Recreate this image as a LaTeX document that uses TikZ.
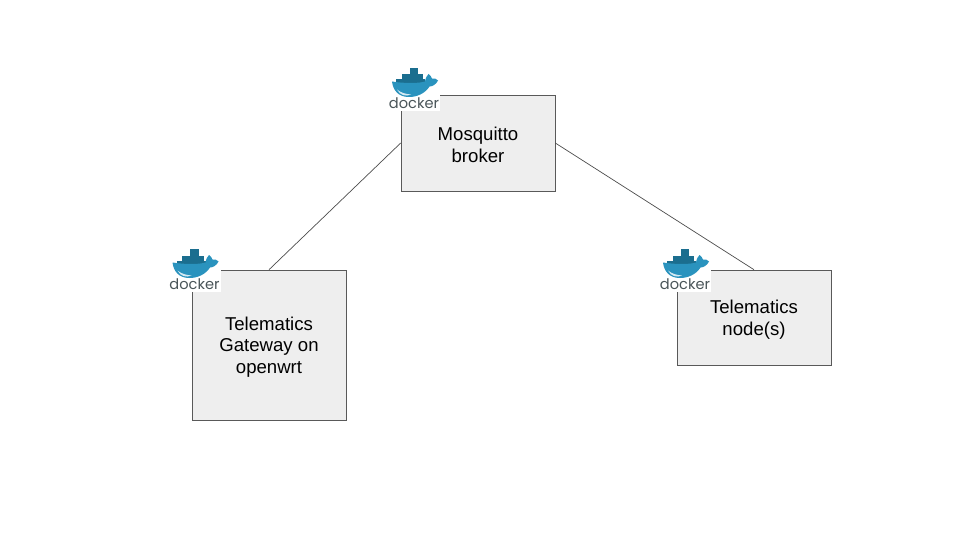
\documentclass[tikz,border=0pt]{standalone}
\usepackage{fontspec}
\setmainfont{Liberation Sans}
\newfontfamily\logofont{Poppins}
\definecolor{boxfill}{HTML}{EEEEEE}
\definecolor{boxline}{HTML}{595959}
\definecolor{whaleblue}{HTML}{2A93BE}
\definecolor{whaledark}{HTML}{1B6E8F}
\definecolor{dockergray}{HTML}{4A5559}
\newcommand{\lowered}[1]{\parbox{150pt}{\centering\vspace*{4pt}#1}}
\tikzset{
  x=1pt,y=-1pt,
  stepbox/.style={draw=boxline,line width=0.6pt,fill=boxfill,minimum width=154pt,align=center,font=\fontsize{18.6}{21.5}\selectfont,inner sep=0pt},
  link/.style={draw=boxline!85!black,line width=0.7pt},
  dockerlogo/.pic={
    \fill[white] (0,0) rectangle (51,44);
    % containers
    \fill[whaledark] (20.5,1) rectangle (29,8);
    \fill[whaledark] (12.5,7.5) rectangle (34,14);
    \fill[whaledark] (7,12.5) rectangle (36,16);
    % whale
    \fill[whaleblue] (3,14.5) .. controls (15,16.5) and (30,16.5) .. (36,14.5)
       .. controls (36.5,11) and (38,8.5) .. (39.5,7)
       .. controls (41.5,8.5) and (42.5,10) .. (43,11.5)
       .. controls (45.5,11) and (47.5,12) .. (49,13.5)
       .. controls (47,17.5) and (43.5,19.5) .. (40.5,19.5)
       .. controls (36,26.5) and (28,30) .. (20,30)
       .. controls (9,30) and (4,23) .. (3,14.5) -- cycle;
    \fill[white!80!whaleblue] (8,22.5) .. controls (12,26) and (17,27) .. (22,27.5)
       .. controls (17,29.8) and (11,28.5) .. (8,22.5) -- cycle;
    \node[text=dockergray,font=\logofont\fontsize{14.6}{15}\selectfont,inner sep=0pt,anchor=center] at (25,36) {docker};
  }
}
\begin{document}
\begin{tikzpicture}
\useasboundingbox (0,0) rectangle (960,540);
\node[stepbox,minimum height=96pt] (broker) at (478,143) {\lowered{Mosquitto\\broker}};
\node[stepbox,minimum height=150pt] (gateway) at (269,345) {\lowered{Telematics\\Gateway on\\openwrt}};
\node[stepbox,minimum height=95pt] (telenode) at (754,317.5) {\lowered{Telematics\\node(s)}};
\draw[link] (broker.west) -- (gateway.north);
\draw[link] (broker.east) -- (telenode.north);
\pic at (389,67) {dockerlogo};
\pic at (169.5,248) {dockerlogo};
\pic at (660,248) {dockerlogo};
\end{tikzpicture}
\end{document}
